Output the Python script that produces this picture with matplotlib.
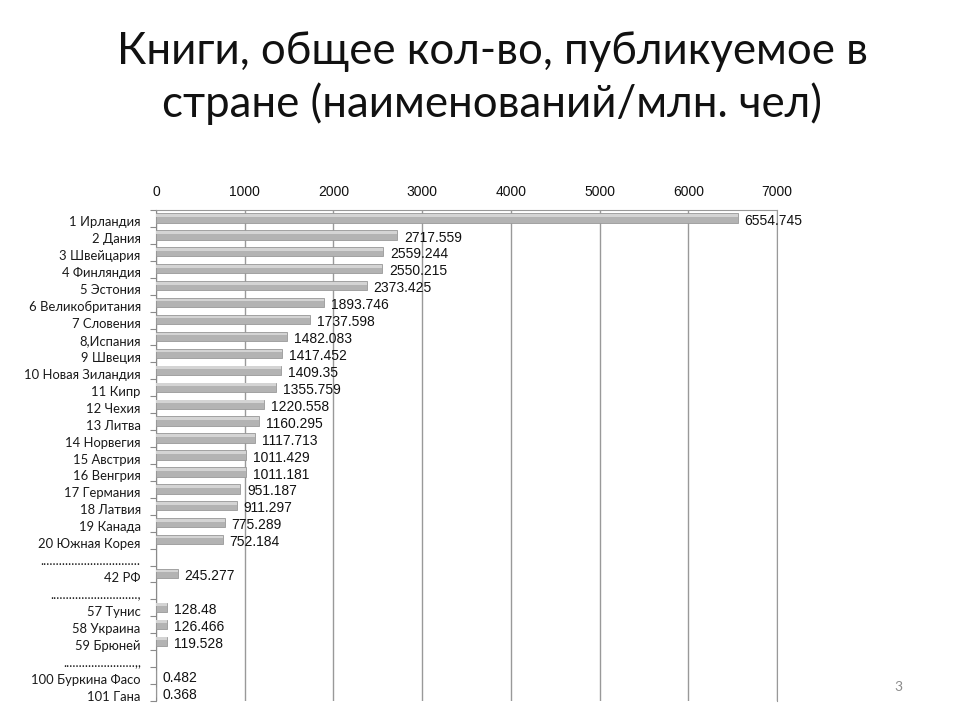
import matplotlib
matplotlib.use("Agg")
import matplotlib.pyplot as plt
import matplotlib.transforms as mtransforms
import numpy as np

title = "Книги, общее кол-во, публикуемое в\nстране (наименований/млн. чел)"

categories = [
    "1 Ирландия", "2 Дания", "3 Швейцария", "4 Финляндия", "5 Эстония",
    "6 Великобритания", "7 Словения", "8,Испания", "9 Швеция", "10 Новая Зиландия",
    "11 Кипр", "12 Чехия", "13 Литва", "14 Норвегия", "15 Австрия",
    "16 Венгрия", "17 Германия", "18 Латвия", "19 Канада", "20 Южная Корея",
    "................................", "42 РФ", "............................,",
    "57 Тунис", "58 Украина", "59 Брюней", ".......................,,",
    "100 Буркина Фасо", "101 Гана",
]
values = [
    6554.745, 2717.559, 2559.244, 2550.215, 2373.425,
    1893.746, 1737.598, 1482.083, 1417.452, 1409.35,
    1355.759, 1220.558, 1160.295, 1117.713, 1011.429,
    1011.181, 951.187, 911.297, 775.289, 752.184,
    None, 245.277, None,
    128.48, 126.466, 119.528, None,
    0.482, 0.368,
]
value_labels = [
    "6554.745", "2717.559", "2559.244", "2550.215", "2373.425",
    "1893.746", "1737.598", "1482.083", "1417.452", "1409.35",
    "1355.759", "1220.558", "1160.295", "1117.713", "1011.429",
    "1011.181", "951.187", "911.297", "775.289", "752.184",
    None, "245.277", None,
    "128.48", "126.466", "119.528", None,
    "0.482", "0.368",
]
xticks = [0, 1000, 2000, 3000, 4000, 5000, 6000, 7000]

fig = plt.figure(figsize=(9.6, 7.2), dpi=100)
fig.patch.set_facecolor("white")

fig.text(0.513, 0.892, title, ha="center", va="center", fontsize=31.5,
         family=["Lato", "DejaVu Sans"], color="#111111", linespacing=1.3)

ax = fig.add_axes([0.1625, 0.0264, 0.6469, 0.6819])
n = len(categories)
y = np.arange(n)

for i, v in enumerate(values):
    if v is None:
        continue
    ax.barh(i - 0.03, v, height=0.55, color="#b3b3b3", edgecolor="#999999",
            linewidth=0.6, zorder=3)
    ax.barh(i - 0.18, v, height=0.16, color="#d4d4d4", linewidth=0, zorder=4)
    ax.annotate(value_labels[i], xy=(v, i), xytext=(5, -1.5), textcoords="offset points",
                ha="left", va="center", fontsize=10, family="Liberation Sans",
                color="#111111", zorder=5)

ax.set_xlim(0, 7000)
ax.set_ylim(n - 0.5, -0.5)
ax.set_xticks(xticks)
ax.xaxis.tick_top()
ax.tick_params(axis="x", length=0, pad=8, labelsize=10, colors="#111111")
for lab in ax.get_xticklabels():
    lab.set_family("Liberation Sans")
ax.grid(axis="x", color="#999999", linewidth=1.0, zorder=1)

ax.set_yticks(y)
ax.set_yticklabels(categories, family=["Lato", "DejaVu Sans"], fontsize=9.4, color="#1a1a1a")
ax.set_yticks(np.arange(-0.5, n, 1.0), minor=True)
ax.tick_params(axis="y", which="major", length=0, pad=11)
ax.tick_params(axis="y", which="minor", length=4, color="#8a8a8a", width=0.8)
shift = mtransforms.ScaledTranslation(0, -3 / 100, fig.dpi_scale_trans)
for lab in ax.get_yticklabels():
    lab.set_transform(lab.get_transform() + shift)

ax.spines["bottom"].set_visible(False)
ax.spines["left"].set_color("#8a8a8a")
ax.spines["top"].set_color("#999999")
ax.spines["right"].set_color("#999999")

fig.text(0.936, 0.046, "3", ha="center", va="center", fontsize=10,
         family="Lato", color="#8c8c8c")

fig.savefig("out.png", dpi=100, facecolor="white")
